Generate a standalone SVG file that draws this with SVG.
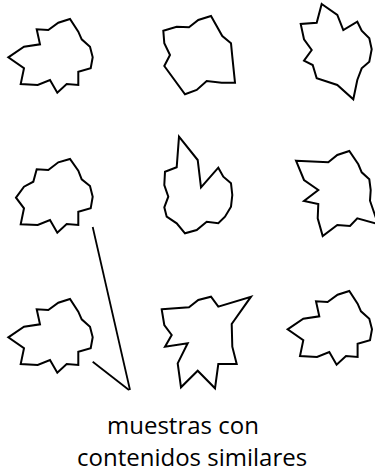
<svg xmlns="http://www.w3.org/2000/svg" width="375" height="475" viewBox="0 0 375 475">
<style>
.s{fill:none;stroke:#000;stroke-width:2;stroke-linejoin:miter}
.c{fill:none;stroke:#000;stroke-width:1.8}
.t{font-family:"Open Sans","Noto Sans",sans-serif;font-size:24px;fill:#000}
</style>
<defs>
<polygon id="blob" points="8.3,57.3 24,46.7 40,44.3 36.7,29.3 48.3,30 58.3,22.7 70,19 78.3,31.7 81.7,39.3 90,46.7 92.7,57.3 90.7,68.3 78.3,71.7 78.3,85 66.7,84 57.3,92.7 50,80 37.7,85 20.7,84 24,68.3"/>
</defs>
<rect width="375" height="475" fill="#fff"/>
<g id="shape1"><use href="#blob" class="s"/></g>
<g id="shape2"><polygon class="s" points="163.3,30.7 176.7,26.7 189,27.3 198.3,20 211,16 222.3,36 231,43.3 232.3,56.7 235,82.7 221.7,82.7 206.7,81 196.7,90 185,94.3 164.3,66 170,55 164.3,43.3"/></g>
<g id="shape3"><polygon class="s" points="321.7,4 337.3,15 343.3,30 357.3,21.7 361.7,30.7 369.3,38.3 371.7,49.3 369.3,61.7 361.7,68.3 357.3,80 353.3,99.3 337.3,85 316.7,78.3 312.7,65 304,60.7 311.7,50 304,39.3 300.7,24 316.7,22.7"/></g>
<g id="shape4"><polygon class="s" points="16,197.7 24,186.7 33.3,181.7 36.7,169.3 48.3,170 58.3,162.3 70,159 78.3,170.7 81.7,179.3 90,186 92.7,196.7 90.7,208.3 78.3,211.7 78.3,225 66.7,224 57.3,232.7 50,220 37.7,225 20.7,224.3 24,208.3"/></g>
<g id="shape5"><polygon class="s" points="179,136.7 197.7,160 201,187.3 218.3,167.7 223.3,176.7 231,183.3 232.3,195 231,206.7 225,216.7 218.3,223.3 206.7,221.7 196.7,230 185,233.3 176.7,223.3 166.7,216.7 164.3,207.3 168.3,196.7 164.3,185 165,171.7 176.7,167.3"/></g>
<g id="shape6"><polygon class="s" points="296,160.7 328.3,162.3 337.3,155 349.3,151 358.3,164.3 361.7,172.3 369.3,179.3 370.7,190 370,200.7 378,224 357.3,218.3 350,226 337.3,225 322.7,236 317.7,218.3 318.3,204 304,201 318.3,190 304,180"/></g>
<g id="shape7"><use href="#blob" class="s" transform="translate(0,280)"/></g>
<g id="shape8"><polygon class="s" points="161.7,309.3 189,307.3 198.3,300 211,296.7 218.3,306.7 251,296.7 231.7,324 232.3,346.7 236.7,364 218.3,364 215,388.3 197.7,370.7 181,387.3 177.7,363.3 187.7,343.3 165,346.7 171.7,335 164.3,325"/></g>
<g id="shape9"><use href="#blob" class="s" transform="translate(279.3,272)"/></g>
<g id="connectors">
<line class="c" x1="92.7" y1="227" x2="130" y2="390"/>
<line class="c" x1="92.7" y1="361.7" x2="129" y2="390"/>
</g>
<g id="label">
<text class="t" x="107" y="434">muestras con</text>
<text class="t" x="77" y="466">contenidos similares</text>
</g>
</svg>
